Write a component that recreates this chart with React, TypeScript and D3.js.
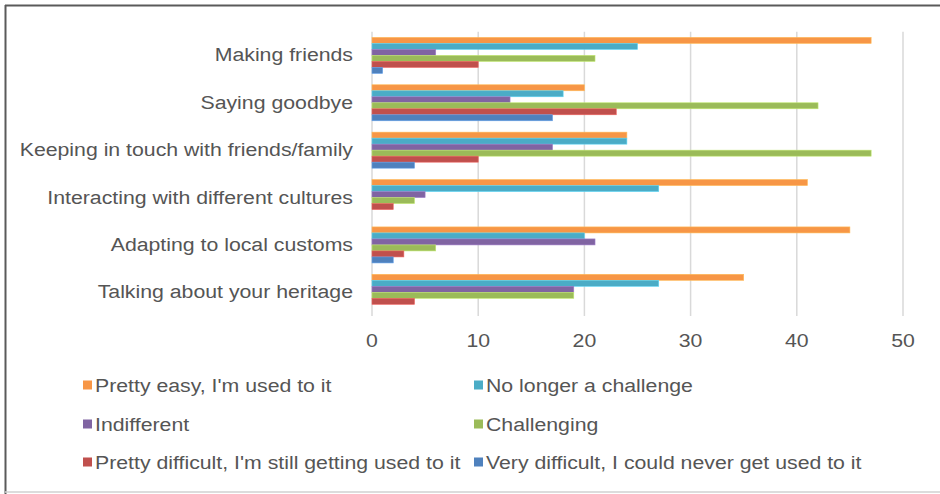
import React from "react";
import * as d3 from "d3";

const categories = [
  "Making friends",
  "Saying goodbye",
  "Keeping in touch with friends/family",
  "Interacting with different cultures",
  "Adapting to local customs",
  "Talking about your heritage",
];

const seriesNames = [
  "Pretty easy, I'm used to it",
  "No longer a challenge",
  "Indifferent",
  "Challenging",
  "Pretty difficult, I'm still getting used to it",
  "Very difficult, I could never get used to it",
];

const seriesColors = ["#F79646", "#4BACC6", "#8064A2", "#9BBB59", "#C0504D", "#4F81BD"];

const prettyEasy = [47, 20, 24, 41, 45, 35];
const noLonger = [25, 18, 24, 27, 20, 27];
const indifferent = [6, 13, 17, 5, 21, 19];
const challenging = [21, 42, 47, 4, 6, 19];
const prettyDifficult = [10, 23, 10, 2, 3, 4];
const veryDifficult = [1, 17, 4, 0, 2, 0];

const seriesValues = [prettyEasy, noLonger, indifferent, challenging, prettyDifficult, veryDifficult];

const xTicks = [0, 10, 20, 30, 40, 50];

const W = 940;
const H = 494;
const SX = 1.12;
const FS = 19;
const TEXT = "#555555";
const FONT = "'Liberation Sans', Arial, sans-serif";

function T({ x, y, anchor, children }: { x: number; y: number; anchor: string; children: React.ReactNode }) {
  return (
    <text
      transform={`translate(${x},${y}) scale(${SX},1)`}
      textAnchor={anchor}
      dominantBaseline="central"
      fontSize={FS}
      fontFamily={FONT}
      fill={TEXT}
    >
      {children}
    </text>
  );
}

export default function App() {
  const x = d3.scaleLinear().domain([0, 50]).range([372, 903]);
  const y = d3.scaleBand<string>().domain(categories).range([31.7, 316]).paddingInner(0.24).paddingOuter(0.12);
  const ys = d3
    .scaleBand<string>()
    .domain(seriesNames)
    .range([0, y.bandwidth()])
    .padding(0);

  const legendRows = [385, 424, 462];
  const legendCols = [83, 474];

  return (
    <div style={{ position: "absolute", left: 0, top: 0 }}>
      <svg width={W} height={H} style={{ display: "block" }}>
        <rect x={0} y={0} width={W} height={H} fill="#ffffff" />
        {/* frame */}
        <line x1={5} y1={5.5} x2={W} y2={5.5} stroke="#5a5a5a" strokeWidth={2} />
        <line x1={5.5} y1={5} x2={5.5} y2={H} stroke="#5a5a5a" strokeWidth={2} />
        <line x1={5} y1={492} x2={W} y2={492} stroke="#d0d0d0" strokeWidth={1.5} />

        {/* gridlines */}
        {xTicks.map((t) => (
          <line key={t} x1={x(t)} x2={x(t)} y1={31.7} y2={316} stroke="#d9d9d9" strokeWidth={1.5} />
        ))}

        {/* bars */}
        {categories.map((c, ci) => (
          <g key={c}>
            {seriesNames.map((s, si) => {
              const v = seriesValues[si][ci];
              if (!v) return null;
              return (
                <rect
                  key={s}
                  x={x(0)}
                  y={(y(c) as number) + (ys(s) as number)}
                  width={x(v) - x(0)}
                  height={ys.bandwidth()}
                  fill={seriesColors[si]}
                  stroke={d3.color(seriesColors[si])!.brighter(0.6).formatHex()}
                  strokeWidth={0.6}
                />
              );
            })}
          </g>
        ))}

        {/* category labels */}
        {categories.map((c) => (
          <T key={c} x={353} y={(y(c) as number) + y.bandwidth() / 2 - 0.5} anchor="end">
            {c}
          </T>
        ))}

        {/* x tick labels */}
        {xTicks.map((t) => (
          <T key={t} x={x(t)} y={340} anchor="middle">
            {t}
          </T>
        ))}

        {/* legend */}
        {seriesNames.map((s, i) => {
          const col = i % 2;
          const row = Math.floor(i / 2);
          const lx = legendCols[col];
          const ly = legendRows[row];
          return (
            <g key={s}>
              <rect x={lx} y={ly - 4.5} width={9} height={9} fill={seriesColors[i]} />
              <T x={lx + 12} y={ly} anchor="start">
                {s}
              </T>
            </g>
          );
        })}
      </svg>
    </div>
  );
}
